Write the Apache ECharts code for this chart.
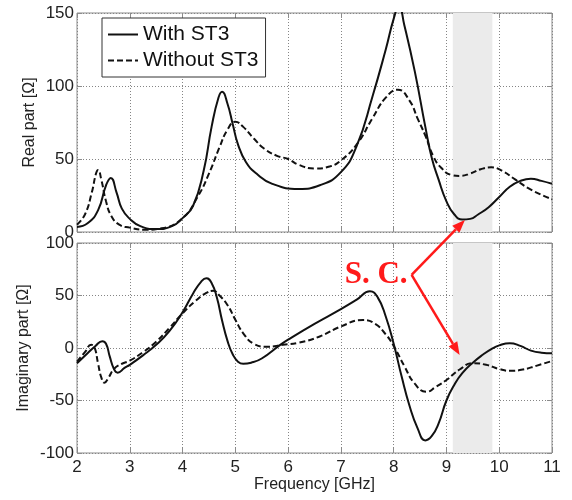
<!DOCTYPE html>
<html>
<head>
<meta charset="utf-8">
<script src="https://cdn.jsdelivr.net/npm/echarts@6/dist/echarts.min.js"></script>
<style>
  html, body { margin: 0; padding: 0; background: #fff; }
  #chart { width: 572px; height: 500px; }
</style>
</head>
<body>
<div id="chart"></div>
<script>
// Real part, With ST3
const realWithF = [2.0, 2.2, 2.4, 2.55, 2.64, 2.75, 2.85, 3.0, 3.2, 3.5, 3.8, 4.0, 4.2, 4.4, 4.55, 4.68, 4.75, 4.85, 4.95, 5.05, 5.2, 5.4, 5.7, 6.2, 6.6, 7.0, 7.3, 7.6, 7.85, 8.0, 8.1, 8.2, 8.4, 8.6, 8.72, 8.85, 9.0, 9.15, 9.3, 9.45, 9.6, 9.8, 10.0, 10.2, 10.4, 10.6, 10.8, 11.0]
const realWithV = [3.5, 6, 15, 32, 37, 27, 16, 9, 4, 2, 4, 9.5, 18, 42, 72, 92, 96, 88, 74, 60, 48, 40, 33, 29.5, 32, 41, 59, 93, 125, 146, 155, 142, 110, 72, 51, 36, 21, 12, 8.5, 9, 12, 17, 24, 31, 35, 36.5, 35, 33]

// Real part, Without ST3
const realWithoutF = [2.0, 2.15, 2.28, 2.36, 2.4, 2.46, 2.55, 2.65, 2.8, 3.0, 3.3, 3.6, 4.0, 4.3, 4.5, 4.7, 4.85, 5.0, 5.15, 5.35, 5.55, 5.8, 6.0, 6.2, 6.5, 6.8, 7.0, 7.3, 7.6, 7.85, 8.08, 8.3, 8.45, 8.6, 8.75, 8.9, 9.1, 9.25, 9.45, 9.65, 9.85, 10.05, 10.3, 10.6, 11.0]
const realWithoutV = [5, 12, 27, 40, 42.5, 36, 21, 11, 5, 3, 1.5, 2.5, 9.5, 25, 40, 58, 70, 75.5, 72, 64, 57, 52, 50, 46, 43.5, 45, 49, 60, 78, 92, 97.5, 90, 78, 66, 52, 44, 39, 38.4, 40, 43, 44.3, 42, 36, 29, 22.4]

// Imaginary part, With ST3
const imagWithF = [2.0, 2.2, 2.35, 2.48, 2.55, 2.62, 2.7, 2.77, 2.9, 3.0, 3.25, 3.5, 3.75, 4.0, 4.2, 4.35, 4.45, 4.55, 4.65, 4.75, 4.85, 4.95, 5.05, 5.15, 5.3, 5.5, 5.85, 6.0, 6.5, 7.0, 7.3, 7.55, 7.7, 7.85, 8.0, 8.15, 8.3, 8.45, 8.6, 8.72, 8.85, 9.0, 9.15, 9.3, 9.5, 9.7, 9.85, 10.0, 10.2, 10.4, 10.6, 10.8, 11.0]
const imagWithV = [-14.5, -5, 2, 6.5, 4, -8, -20, -23.5, -19, -16, -7, 3, 16, 34, 52, 63, 66.5, 62, 48, 26, 7, -6, -13, -15, -14, -10, 3, 8, 23, 37, 46, 54, 48, 30, 4, -27, -55, -76, -88, -84, -72, -50, -35, -24, -14, -6, -1, 2.5, 4.5, 2, -2.5, -4.5, -5]

// Imaginary part, Without ST3
const imagWithoutF = [2.0, 2.15, 2.27, 2.33, 2.4, 2.46, 2.52, 2.6, 2.7, 2.85, 3.0, 3.25, 3.5, 3.75, 4.0, 4.25, 4.45, 4.58, 4.7, 4.85, 5.0, 5.15, 5.35, 5.6, 5.9, 6.2, 6.6, 7.0, 7.42, 7.65, 7.85, 8.0, 8.2, 8.4, 8.62, 8.8, 9.0, 9.25, 9.5, 9.75, 10.0, 10.2, 10.45, 10.7, 11.0]
const imagWithoutV = [-13, -4, 3, 1, -15, -28, -33, -28, -20, -15, -12, -4, 6, 19, 33, 45, 52.5, 54.5, 50, 41, 27, 14, 4, 1.2, 3, 5, 11, 20.5, 26.7, 23, 13, 2, -17, -34, -41.7, -37, -30.5, -20.5, -14.5, -16, -20, -21.7, -20.5, -17, -12.4]

// shaded band (GHz) and S. C. annotation (data coords)
const bandRange = [9.12, 9.87]
const scOrigin = [8.34, 69.7]        // bottom plot
const scTipReal = [9.35, 8.2]        // top plot
const scTipImag = [9.25, -6.7]       // bottom plot

const zip = (xs, ys) => xs.map((x, i) => [x, ys[i]])

const FONT = 'Liberation Sans, Arial, sans-serif'
const GRID_COLOR = '#8c8c8c'
const SPLIT = { color: '#858585', type: [1, 2], width: 1 }

const chart = echarts.init(document.getElementById('chart'))

const xBase = (gridIndex, showLabel) => ({
  type: 'value',
  gridIndex,
  min: 2,
  max: 11,
  interval: 1,
  axisLine: { show: false, onZero: false },
  axisTick: { show: true, inside: true, length: 5, lineStyle: { color: GRID_COLOR } },
  axisLabel: { show: showLabel, fontFamily: FONT, fontSize: 17, color: '#222', margin: 6 },
  splitLine: { show: true, lineStyle: SPLIT },
})

const xTop = (gridIndex) => ({
  type: 'value',
  gridIndex,
  position: 'top',
  min: 2,
  max: 11,
  interval: 1,
  axisLine: { show: false, onZero: false },
  axisTick: { show: true, inside: true, length: 5, lineStyle: { color: GRID_COLOR } },
  axisLabel: { show: false },
  splitLine: { show: false },
})

const yLeft = (gridIndex, min, max, name, gap) => ({
  type: 'value',
  gridIndex,
  min,
  max,
  interval: 50,
  name,
  nameLocation: 'middle',
  nameGap: gap,
  nameMoveOverlap: false,
  nameTextStyle: { fontFamily: FONT, fontSize: 16, color: '#222' },
  axisLine: { show: false, onZero: false },
  axisTick: { show: true, inside: true, length: 5, lineStyle: { color: GRID_COLOR } },
  axisLabel: { fontFamily: FONT, fontSize: 17, color: '#222', margin: 3 },
  splitLine: { show: true, lineStyle: SPLIT },
})

const yRight = (gridIndex, min, max) => ({
  type: 'value',
  gridIndex,
  position: 'right',
  min,
  max,
  interval: 50,
  axisLine: { show: false, onZero: false },
  axisTick: { show: true, inside: true, length: 5, lineStyle: { color: GRID_COLOR } },
  axisLabel: { show: false },
  splitLine: { show: false },
})

const band = {
  silent: true,
  itemStyle: { color: '#ebebeb' },
  data: [[{ xAxis: bandRange[0] }, { xAxis: bandRange[1] }]],
}

const lineSeries = (name, data, xi, yi, dashed, withBand) => ({
  name,
  type: 'line',
  xAxisIndex: xi,
  yAxisIndex: yi,
  data,
  symbol: 'none',
  smooth: 0.5,
  lineStyle: { color: '#111', width: 2, type: dashed ? [6, 3] : 'solid' },
  itemStyle: { color: '#111' },
  z: 3,
  markArea: withBand ? band : undefined,
})

const option = {
  animation: false,
  backgroundColor: '#fff',
  grid: [
    { left: 77, top: 13, width: 475, height: 219, show: true, borderColor: GRID_COLOR, borderWidth: 1, backgroundColor: 'transparent' },
    { left: 77, top: 243, width: 475, height: 210, show: true, borderColor: GRID_COLOR, borderWidth: 1, backgroundColor: 'transparent' },
  ],
  legend: {
    orient: 'vertical',
    left: 102,
    top: 18,
    padding: [6, 7, 6, 5],
    itemGap: 5,
    itemWidth: 30,
    itemHeight: 14,
    backgroundColor: '#fff',
    borderColor: '#333',
    borderWidth: 1,
    itemStyle: { opacity: 0, borderWidth: 0 },
    textStyle: { fontFamily: FONT, fontSize: 21, color: '#111' },
    data: ['With ST3', 'Without ST3'],
  },
  xAxis: [
    xBase(0, false),
    {
      ...xBase(1, true),
      name: 'Frequency [GHz]',
      nameLocation: 'middle',
      nameGap: 24,
      nameMoveOverlap: false,
      nameTextStyle: { fontFamily: FONT, fontSize: 16, color: '#222' },
    },
    xTop(0),
    xTop(1),
  ],
  yAxis: [
    yLeft(0, 0, 150, 'Real part [Ω]', 39),
    yLeft(1, -100, 100, 'Imaginary part [Ω]', 45),
    yRight(0, 0, 150),
    yRight(1, -100, 100),
  ],
  series: [
    lineSeries('With ST3', zip(realWithF, realWithV), 0, 0, false, true),
    lineSeries('Without ST3', zip(realWithoutF, realWithoutV), 0, 0, true, false),
    lineSeries('With ST3', zip(imagWithF, imagWithV), 1, 1, false, true),
    lineSeries('Without ST3', zip(imagWithoutF, imagWithoutV), 1, 1, true, false),
  ],
}

chart.setOption(option)

// S. C. annotation with two arrows
const arrow = (from, to) => {
  const dx = to[0] - from[0]
  const dy = to[1] - from[1]
  const len = Math.sqrt(dx * dx + dy * dy)
  const ux = dx / len
  const uy = dy / len
  const headLen = 13
  const headW = 5
  const bx = to[0] - ux * headLen
  const by = to[1] - uy * headLen
  return [
    {
      type: 'line',
      shape: { x1: from[0], y1: from[1], x2: bx, y2: by },
      style: { stroke: '#ff1a1a', lineWidth: 2.5 },
      z: 20,
    },
    {
      type: 'polygon',
      shape: { points: [to, [bx - uy * headW, by + ux * headW], [bx + uy * headW, by - ux * headW]] },
      style: { fill: '#ff1a1a' },
      z: 20,
    },
  ]
}

const o = chart.convertToPixel({ gridIndex: 1 }, scOrigin)
const tTop = chart.convertToPixel({ gridIndex: 0 }, scTipReal)
const tBot = chart.convertToPixel({ gridIndex: 1 }, scTipImag)

chart.setOption({
  graphic: [
    ...arrow(o, tTop),
    ...arrow(o, tBot),
    {
      type: 'text',
      x: o[0] - 4,
      y: o[1],
      z: 20,
      style: {
        text: 'S. C.',
        fill: '#ff1a1a',
        font: 'bold 31px "Liberation Serif", "Times New Roman", serif',
        align: 'right',
        verticalAlign: 'middle',
      },
    },
  ],
})
</script>
</body>
</html>
